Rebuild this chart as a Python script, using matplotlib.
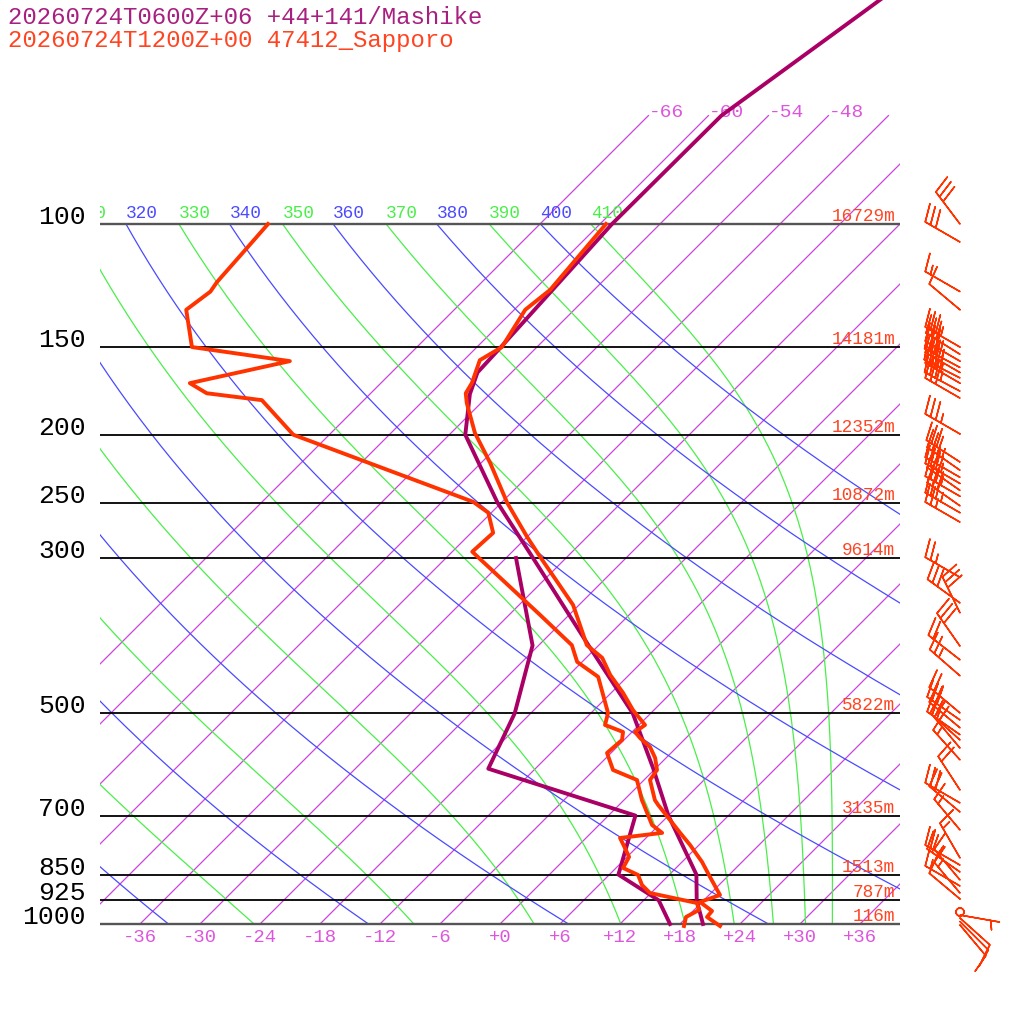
import numpy as np
import matplotlib
matplotlib.use('Agg')
import matplotlib.pyplot as plt
from matplotlib.transforms import offset_copy

# ---------------- data ----------------
title_mashike = "20260724T0600Z+06 +44+141/Mashike"
title_sapporo = "20260724T1200Z+00 47412_Sapporo"

# Mashike (model) temperature / dewpoint
mas_p = [1000, 925, 850, 700, 600, 500, 400, 300, 250, 200, 175, 163, 150, 100, 70, 50, 30]
mas_t = [20.3, 17.3, 14.7, 6.0, -0.2, -7.8, -19.0, -33.3, -42.4, -52.4, -56.0, -57.4, -57.6,
         -58.8, -58.7, -54.9, -49.3]
mas_td_p = [1000, 925, 850, 700, 600, 500, 400, 300]
mas_td = [17.0, 13.5, 6.9, 2.7, -16.7, -19.6, -24.6, -35.0]

# Sapporo (observed) temperature
sap_t_p = [1006.6, 977.2, 958.1, 930.2, 909.1, 856.7, 815.4, 771.0, 741.0, 675.8, 665.3, 622.7,
           602.5, 579.0, 558.6, 542.3, 531.7, 519.6, 494.7, 467.6, 440.6, 416.6, 399.6, 350.1,
           298.9, 279.9, 250.2, 219.4, 198.9, 180.3, 174.5, 168.8, 156.5, 149.9, 132.6, 124.2, 100.0]
sap_t = [22.2, 20.0, 19.9, 17.8, 19.1, 16.3, 14.0, 11.1, 8.9, 3.9, 3.1, 0.6,
         0.3, -1.1, -2.7, -4.6, -5.7, -5.4, -8.1, -10.8, -13.9, -16.4, -19.2, -24.6,
         -32.7, -36.0, -41.4, -47.1, -51.6, -55.4, -56.5, -56.9, -58.4, -57.5, -58.9, -58.4, -59.4]
# Sapporo dewpoint
sap_td_p = [1006.6, 977.2, 955.0, 933.3, 903.1, 879.6, 851.0, 831.6, 802.0, 778.9, 753.5, 741.0,
            722.0, 671.4, 665.3, 622.7, 602.5, 569.7, 545.9, 531.7, 519.6, 499.5, 443.5, 422.2,
            399.6, 361.8, 293.9, 276.2, 258.5, 249.4, 200.0, 178.5, 174.5, 168.8, 157.0, 149.9,
            132.6, 124.9, 121.0, 108.3, 100.0]
sap_td = [18.6, 17.9, 18.5, 17.6, 11.9, 10.3, 8.9, 6.7, 6.2, 4.9, 3.4, 7.1,
          5.3, 2.2, 1.8, -0.7, -4.1, -6.4, -6.2, -6.9, -9.4, -10.3, -14.9, -18.5,
          -20.7, -26.9, -40.0, -39.8, -42.3, -44.9, -69.6, -76.2, -82.4, -85.1, -77.3, -88.5,
          -92.8, -92.2, -92.5, -92.9, -93.2]

# Sapporo winds
wind_p = [100, 106.1, 124.9, 132.6, 149.9, 153.5, 157.0, 160.3, 163.0, 165.9, 168.8, 173.3, 177.3,
          199.5, 218.8, 224.8, 230.1, 234.8, 240.2, 244.9, 252.7, 258.5, 266.6, 319.7, 347.8,
          359.4, 400.9, 419.4, 442.0, 499.5, 511.1, 524.5, 536.5, 545.9, 560.6, 582.8, 643.6,
          671.4, 691.8, 733.9, 804.8, 823.8, 842.7, 865.1, 882.4, 903.1, 921.0, 961.3, 971.0,
          980.5, 992.0, 1003.3]
wind_dir = [323, 300, 300, 310, 300, 302, 300, 298, 300, 297, 300, 298, 300,
            300, 303, 305, 300, 300, 305, 300, 305, 300, 300, 300, 306,
            334, 325, 308, 311, 310, 305, 310, 305, 312, 320, 318, 327,
            300, 310, 320, 330, 300, 305, 320, 300, 320, 310, 0, 100,
            132, 135, 140]
wind_kt = [30, 30, 15, 10, 35, 30, 35, 30, 35, 40, 35, 35, 30,
           35, 30, 35, 30, 35, 30, 35, 30, 35, 25, 25, 30,
           30, 30, 20, 25, 25, 30, 25, 25, 20, 20, 15, 20,
           30, 20, 15, 15, 20, 20, 15, 15, 15, 10, 0, 5,
           10, 10, 10]

# grid / labels
levels = [100, 150, 200, 250, 300, 500, 700, 850, 925, 1000]
level_heights = ['16729m', '14181m', '12352m', '10872m', '9614m', '5822m', '3135m',
                 '1513m', '787m', '116m']
isotherms = list(range(-66, 37, 6))
isotherm_top_labels = [-66, -60, -54, -48]
bottom_ticks = list(range(-36, 37, 6))
dry_thetas = list(range(240, 401, 20))
moist_thetaes = list(range(250, 411, 20))

# ---------------- style ----------------
FONT = 'Liberation Mono'
RED = '#ff3300'
PURP = '#aa0066'
ISO = '#cc44dd'
ISO_LBL = '#dd55dd'
BLUE = '#4a4aff'
GREEN = '#4aee4a'
SKEW = 70.0   # deg C per decade of pressure -> 45 degree isotherms


def skx(T, p):
    return np.asarray(T, float) + SKEW * np.log10(1000.0 / np.asarray(p, float))


def es(tc):
    return 6.112 * np.exp(17.67 * tc / (tc + 243.5))


def rs(tc, p):
    e = es(tc)
    return 0.622 * e / (p - e)


def thetae_sat(tc, p):
    T = tc + 273.15
    r = rs(tc, p)
    return T * (1000.0 / p) ** (0.2854 * (1 - 0.28 * r)) * np.exp((3.376 / T - 0.00254) * r * 1000 * (1 + 0.81 * r))


def moist_profile(the, ps):
    lo = np.full_like(ps, -120.0)
    hi = np.full_like(ps, 45.0)
    for _ in range(60):
        mid = 0.5 * (lo + hi)
        big = thetae_sat(mid, ps) > the
        hi = np.where(big, mid, hi)
        lo = np.where(big, lo, mid)
    return 0.5 * (lo + hi)


fig = plt.figure(figsize=(10.24, 10.24), dpi=100)
ax = fig.add_axes([100 / 1024, 80 / 1024, 800 / 1024, 944 / 1024])
ax.set_yscale('log')
ax.set_ylim(1000 * 10 ** (20 / 700), 1000 * 10 ** (-924 / 700))
ax.set_xlim(-40, 40)
ax.axis('off')

# isotherms
for t in isotherms:
    pp = np.array([1000.0, 70.0])
    ax.plot(skx([t, t], pp), pp, color=ISO, lw=0.9, zorder=1)
lbl_tr = offset_copy(ax.transData, fig=fig, x=0, y=-1.5, units='dots')
for t in isotherm_top_labels:
    ax.text(skx(t, 70.0), 70.0, f'{t:d}', color=ISO_LBL, fontsize=14, family=FONT,
            ha='left', va='baseline', transform=lbl_tr, clip_on=False)

ps = np.geomspace(1000.0, 100.0, 300)
th_tr = offset_copy(ax.transData, fig=fig, x=0, y=6, units='dots')
LABEL_MIN_X = -44.0   # labels further left are entirely outside the diagram
# dry adiabats
for th in dry_thetas:
    tc = th * (ps / 1000.0) ** 0.2857 - 273.15
    ax.plot(skx(tc, ps), ps, color=BLUE, lw=0.9, zorder=1.2)
    xl = skx(tc[-1], 100.0)
    if xl > LABEL_MIN_X:
        ax.text(xl, 100.0, f'{th}', color=BLUE, fontsize=12.8, family=FONT,
                ha='left', va='baseline', transform=th_tr, clip_on=True)
# moist adiabats
for the in moist_thetaes:
    tc = moist_profile(the, ps)
    ax.plot(skx(tc, ps), ps, color=GREEN, lw=0.9, zorder=1.1)
    xl = skx(tc[-1], 100.0)
    if xl > LABEL_MIN_X:
        ax.text(xl, 100.0, f'{the}', color=GREEN, fontsize=12.8, family=FONT,
                ha='left', va='baseline', transform=th_tr, clip_on=True)

# pressure levels
h_tr = offset_copy(ax.transData, fig=fig, x=0, y=3, units='dots')
for p, h in zip(levels, level_heights):
    edge = p in (100, 1000)
    ax.axhline(p, color='#555555' if edge else 'black', lw=1.7 if edge else 1.3, zorder=2)
    ax.text(-41.4, p, f'{p}', color='black', fontsize=19, family=FONT,
            ha='right', va='baseline', clip_on=False)
    ax.text(39.5, p, h, color='#ff4422', fontsize=12.8, family=FONT,
            ha='right', va='baseline', transform=h_tr, clip_on=False, zorder=3)

# bottom temperature labels
b_tr = offset_copy(ax.transData, fig=fig, x=0, y=-18.5, units='dots')
for t in bottom_ticks:
    ax.text(t, 1000.0, f'{t:+d}', color=ISO_LBL, fontsize=13.6, family=FONT,
            ha='center', va='baseline', transform=b_tr, clip_on=False)

# soundings
ax.plot(skx(mas_td, mas_td_p), mas_td_p, color=PURP, lw=2.8, zorder=4)
ax.plot(skx(mas_t, mas_p), mas_p, color=PURP, lw=2.8, zorder=4)
ax.plot(skx(sap_td, sap_td_p), sap_td_p, color=RED, lw=2.8, zorder=5)
ax.plot(skx(sap_t, sap_t_p), sap_t_p, color=RED, lw=2.8, zorder=5)

# wind barbs
wd = np.radians(np.array(wind_dir, float))
ws = np.array(wind_kt, float)
u = -ws * np.sin(wd)
v = -ws * np.cos(wd)
b = ax.barbs(np.full(len(wind_p), 46.0), wind_p, u, v, length=7.6, pivot='tip',
             color=RED, linewidth=1.1,
             sizes=dict(spacing=0.15, height=0.45, emptybarb=0.1),
             barb_increments=dict(half=5, full=10, flag=50), zorder=6)
b.set_clip_on(False)

# titles
fig.text(8 / 1024, 1 - 17 / 1024, title_mashike, color='#a8207f', fontsize=17.3, family=FONT,
         ha='left', va='center')
fig.text(8 / 1024, 1 - 41 / 1024, title_sapporo, color='#ff4422', fontsize=17.3, family=FONT,
         ha='left', va='center')

fig.savefig('out.png', dpi=100, facecolor='white')
